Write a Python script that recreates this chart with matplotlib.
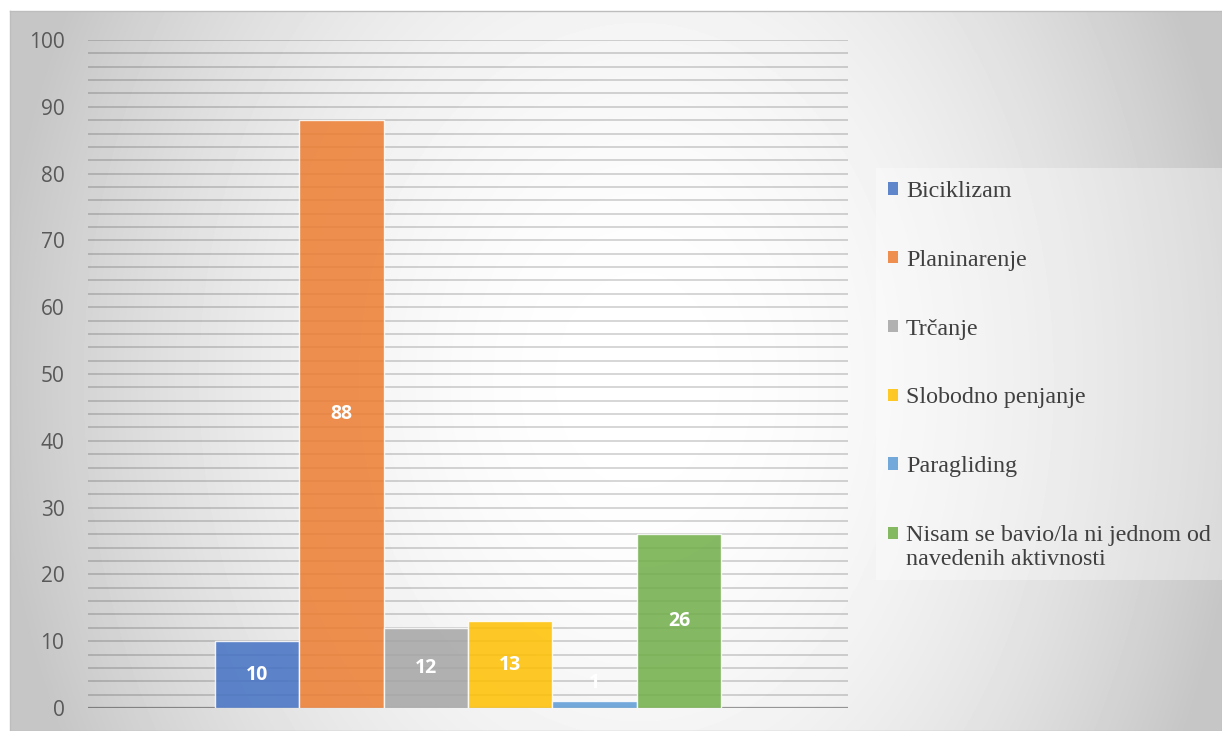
import numpy as np
import matplotlib.pyplot as plt
from matplotlib.patches import Rectangle, Patch

categories = ['Biciklizam', 'Planinarenje', 'Trčanje', 'Slobodno penjanje',
              'Paragliding', 'Nisam se bavio/la ni jednom od\nnavedenih aktivnosti']
values = [10, 88, 12, 13, 1, 26]
colors = ['#4472C4', '#ED7D31', '#A5A5A5', '#FFC000', '#5B9BD5', '#70AD47']
yticks = list(range(0, 101, 10))

W, H = 1222, 731
fig = plt.figure(figsize=(W / 100, H / 100), dpi=100)

# chart area background: wide radial grey gradient, white in the middle
bg = fig.add_axes([10 / W, 0, 1 - 10 / W, (H - 11) / H], zorder=-10)
X, Y = np.meshgrid(np.arange(10, W), np.arange(11, H))
cx, cy = 640, 380
dx = np.where(X < cx, (X - cx) / 630.0, (X - cx) / 590.0)
dy = (Y - cy) / 800.0
t2 = np.clip(dx ** 2 + dy ** 2, 0, 1.05)
shade = 1 - 0.215 * t2
bg.imshow(shade, cmap='gray', vmin=0, vmax=1, aspect='auto',
          extent=[0, 1, 0, 1], interpolation='bilinear')
bg.set_xticks([])
bg.set_yticks([])
for s in bg.spines.values():
    s.set_color('#bdbdbd')
    s.set_linewidth(1)

# legend backdrop
fig.patches.append(Rectangle((876 / W, 151 / H), (W - 876) / W, 412 / H,
                             transform=fig.transFigure, facecolor='white',
                             alpha=0.35, edgecolor='none', zorder=-5))

ax = fig.add_axes([88 / W, 23 / H, 760 / W, 668 / H])
ax.patch.set_alpha(0)

n = len(values)
bw = (1 / 1.5) / n
xpos = [-(1 / 1.5) / 2 + bw * (i + 0.5) for i in range(n)]

for yv in np.arange(2, 101, 2):
    ax.axhline(yv, color='black', alpha=0.19, lw=1.2, zorder=0)
ax.axhline(0, color='black', alpha=0.38, lw=1.6, zorder=0)

bars = ax.bar(xpos, values, width=bw, color=colors, alpha=0.85,
              edgecolor=(1, 1, 1, 0.45), linewidth=1.0, zorder=2)

for x, v in zip(xpos, values):
    ax.text(x, max(v / 2, 3.7), str(v), ha='center', va='center',
            color='white', fontsize=14, fontweight='bold',
            family='Open Sans', zorder=3)

ax.set_xlim(-0.5, 0.5)
ax.set_ylim(0, 100)
ax.set_xticks([])
ax.set_yticks(yticks)
ax.tick_params(axis='y', length=0, pad=17, labelsize=15, labelcolor='#595959')
for lab in ax.get_yticklabels():
    lab.set_family('Open Sans')
for s in ax.spines.values():
    s.set_visible(False)

handles = [Patch(facecolor=c, alpha=0.85, edgecolor='none') for c in colors]
leg = fig.legend(handles, categories, loc='upper left',
                 bbox_to_anchor=(888 / W, 1 - 181 / H),
                 frameon=False, borderpad=0, borderaxespad=0,
                 handlelength=0.42, handleheight=0.42, handletextpad=0.33,
                 labelspacing=1.99,
                 prop={'family': 'Liberation Serif', 'size': 17.3},
                 labelcolor='#404040')
# put the marker of the two-line entry beside its first line
last = leg.legend_handles[-1]
last.set_y(last.get_y() + 10)

fig.savefig('out.png', dpi=100)
